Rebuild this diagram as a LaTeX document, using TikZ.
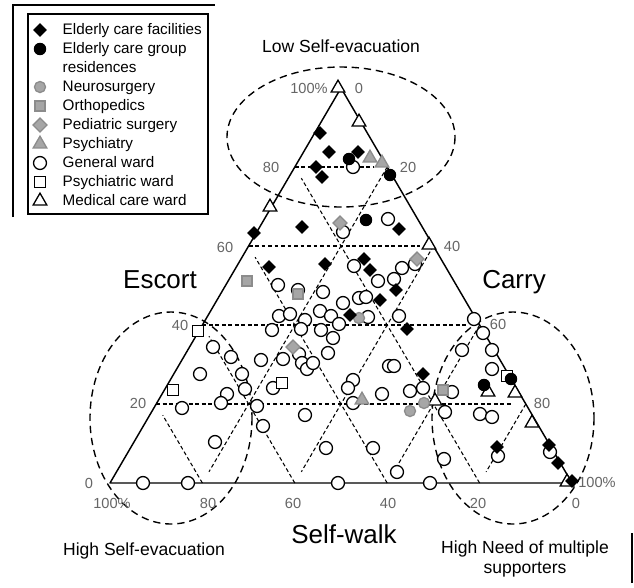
\documentclass[tikz,border=0pt]{standalone}
\usepackage{fontspec}
\setmainfont{Liberation Sans}
\usetikzlibrary{shapes.geometric}

\begin{document}
\begin{tikzpicture}[x=0.02165cm, y=-0.02165cm,
    gridline/.style={dash pattern=on 2.4pt off 1.6pt, line width=0.65pt, shorten >=8pt},
    zone/.style={dash pattern=on 4.5pt off 3pt, line width=0.85pt},
    mk/.style={inner sep=0pt, outer sep=0pt, line width=0.8pt},
    genward/.style={mk, circle, draw, fill=white, minimum size=0.28cm},
    psyward/.style={mk, rectangle, draw, fill=white, minimum size=0.24cm},
    medward/.style={mk, regular polygon, regular polygon sides=3, draw, fill=white, minimum size=0.34cm},
    neuro/.style={mk, circle, draw=black!45, fill=black!35, minimum size=0.24cm},
    ortho/.style={mk, rectangle, draw=black!45, fill=black!35, minimum size=0.22cm},
    pedia/.style={mk, diamond, draw=black!45, fill=black!35, minimum size=0.3cm},
    psych/.style={mk, regular polygon, regular polygon sides=3, draw=black!45, fill=black!35, minimum size=0.34cm},
    facil/.style={mk, diamond, fill=black, minimum size=0.3cm},
    grpres/.style={mk, circle, fill=black, minimum size=0.27cm},
    ticklab/.style={text=black!60, font=\fontsize{9}{10}\selectfont},
    lab/.style={anchor=base, font=\fontsize{10.8}{13}\selectfont},
    axlab/.style={anchor=base, font=\fontsize{16}{19}\selectfont},
    legtext/.style={anchor=base west, font=\fontsize{9.4}{11}\selectfont}]
    \useasboundingbox[fill=white] (0,0) rectangle (634,587);

    % frame pieces
    \draw[line width=1.5pt] (13,217) -- (13,5) -- (215,5);
    \draw[line width=1.5pt] (632,533) -- (632,583);

    % legend
    \draw[line width=0.8pt] (28,14) rectangle (208,214);
    \draw[line width=1.5pt] (208,14) -- (208,214) -- (28,214);
    \node[facil] (lk1) at (40,30) {};
    \node[legtext] (lt1) at (57,34) {Elderly care facilities};
    \node[grpres] (lk2) at (40,49) {};
    \node[legtext] (lt2) at (57,53) {Elderly care group};
    \node[legtext] (lt2b) at (57,72) {residences};
    \node[neuro] (lk3) at (40,87) {};
    \node[legtext] (lt3) at (57,91) {Neurosurgery};
    \node[ortho] (lk4) at (40,106) {};
    \node[legtext] (lt4) at (57,110) {Orthopedics};
    \node[pedia] (lk5) at (40,125) {};
    \node[legtext] (lt5) at (57,129) {Pediatric surgery};
    \node[psych] (lk6) at (40,144) {};
    \node[legtext] (lt6) at (57,148) {Psychiatry};
    \node[genward] (lk7) at (40,163) {};
    \node[legtext] (lt7) at (57,167) {General ward};
    \node[psyward] (lk8) at (40,182) {};
    \node[legtext] (lt8) at (57,186) {Psychiatric ward};
    \node[medward] (lk9) at (40,201) {};
    \node[legtext] (lt9) at (57,205) {Medical care ward};

    % ternary frame and grid
    \coordinate (A) at (110,483);
    \coordinate (B) at (572,483);
    \coordinate (C) at (341,88);
    \foreach \k [evaluate=\k as \m using 1-\k] in {0.2,0.4,0.6,0.8}{
        \draw[gridline] (barycentric cs:A=\m,C=\k) -- (barycentric cs:B=\m,C=\k);
        \draw[gridline] (barycentric cs:B=\k,C=\m) -- (barycentric cs:A=\m,B=\k);
        \draw[gridline] (barycentric cs:A=\k,B=\m) -- (barycentric cs:A=\k,C=\m);
    }
    \draw[line width=0.9pt, line join=round] (A) -- (B) -- (C) -- cycle;

    % zones
    \draw[zone] (341,137) ellipse [x radius=114, y radius=70];
    \draw[zone] (171,418) ellipse [x radius=81, y radius=106];
    \draw[zone] (513,418) ellipse [x radius=81, y radius=106];

    % tick labels
    \node[ticklab] (l0) at (89,483) {0};
    \node[ticklab] (l20) at (138,403) {20};
    \node[ticklab] (l40) at (180,325) {40};
    \node[ticklab] (l60) at (225,247) {60};
    \node[ticklab] (l80) at (271,167) {80};
    \node[ticklab] (l100) at (309,88) {100\%};
    \node[ticklab] (r0) at (359,88) {0};
    \node[ticklab] (r20) at (408,167) {20};
    \node[ticklab] (r40) at (452,246) {40};
    \node[ticklab] (r60) at (498,324) {60};
    \node[ticklab] (r80) at (542,403) {80};
    \node[ticklab] (r100) at (597,482) {100\%};
    \node[ticklab] (b100) at (112,503) {100\%};
    \node[ticklab] (b80) at (208,503) {80};
    \node[ticklab] (b60) at (293,503) {60};
    \node[ticklab] (b40) at (388,503) {40};
    \node[ticklab] (b20) at (478,503) {20};
    \node[ticklab] (b0) at (576,503) {0};

    % titles
    \node[lab] (lowse) at (341,52) {Low Self-evacuation};
    \node[axlab] (escort) at (160,288) {Escort};
    \node[axlab] (carry) at (514,288) {Carry};
    \node[axlab] (walk) at (344,543) {Self-walk};
    \node[lab] (highse) at (144,555) {High Self-evacuation};
    \node[lab] (multi) at (525,553) {High Need of multiple};
    \node[lab] (multib) at (525,573) {supporters};

    % wards
    \foreach \px/\py [count=\i] in {353/167, 343/232, 388/219,
        298/290, 278/285, 279/316, 290/314, 305/320, 301/329, 272/330, 320/311,
        213/347, 231/357, 261/360, 283/359, 299/354, 302/363, 307/369, 313/363,
        242/374, 200/374, 273/388, 245/389, 227/394, 221/403, 182/408, 257/406,
        263/426, 305/415, 215/442, 326/448,
        354/266, 378/281, 394/279, 402/268, 415/264, 323/292, 343/303, 359/298,
        366/297, 331/316, 339/324, 368/317, 399/316, 321/330, 333/338, 328/353,
        474/319, 483/333, 492/350, 462/350, 492/369,
        389/366, 394/366, 353/380, 348/388, 353/403, 382/394, 410/391, 423/388,
        452/392, 445/412, 373/448, 397/472, 444/459, 480/414, 492/417, 498/456,
        550/452, 143/483, 188/483, 338/483, 430/483}
        \node[genward] (gw\i) at (\px,\py) {};
    \foreach \px/\py [count=\i] in {198/331, 173/390, 282/383, 507/376}
        \node[psyward] (pw\i) at (\px,\py) {};
    \foreach \px/\py [count=\i] in {338/88, 359/122, 270/207, 429/245, 435/401,
        488/392, 515/393, 532/423, 567/482}
        \node[medward] (mw\i) at (\px,\py) {};

    % hospital departments
    \foreach \px/\py [count=\i] in {359/318, 424/403, 410/411}
        \node[neuro] (ns\i) at (\px,\py) {};
    \foreach \px/\py [count=\i] in {247/281, 298/294, 443/390}
        \node[ortho] (or\i) at (\px,\py) {};
    \foreach \px/\py [count=\i] in {340/223, 417/259, 293/347}
        \node[pedia] (ps\i) at (\px,\py) {};
    \foreach \px/\py [count=\i] in {370/158, 382/163, 362/400}
        \node[psych] (py\i) at (\px,\py) {};

    % elderly care
    \foreach \px/\py [count=\i] in {320/133, 329/152, 358/152, 316/167, 322/177,
        302/227, 399/229, 254/233, 269/267, 325/264, 364/259, 370/270, 396/290,
        380/300, 350/315, 407/329, 423/374, 497/447, 549/445, 558/463, 572/481}
        \node[facil] (ec\i) at (\px,\py) {};
    \foreach \px/\py [count=\i] in {349/159, 390/175, 366/220, 511/379, 484/385}
        \node[grpres] (eg\i) at (\px,\py) {};
\end{tikzpicture}
\end{document}
